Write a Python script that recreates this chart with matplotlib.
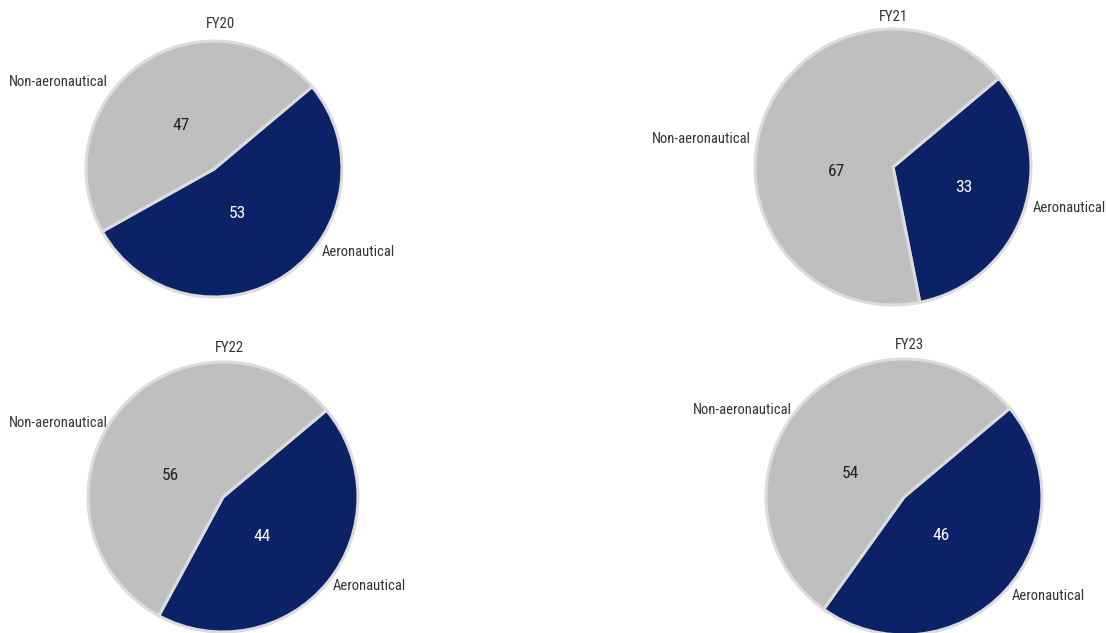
import matplotlib.pyplot as plt

years = ["FY20", "FY21", "FY22", "FY23"]
categories = ["Aeronautical", "Non-aeronautical"]
aero = [53, 33, 44, 46]
non_aero = [47, 67, 56, 54]

colors = ["#0c2266", "#bfbfbf"]
value_colors = ["white", "#222222"]
font = ["Roboto Condensed", "Liberation Sans Narrow", "DejaVu Sans"]

W, H = 1106, 633
# pie centre (px) and radius (px) for each panel
centres = [(214, 169, 128), (893, 167, 138), (223, 497, 135), (904, 497, 138)]
# label offsets in radius units: aero label, non-aero label, aero value, non-aero value, title
offsets = [
    [(0.84, -0.65), (-0.83, 0.68), (0.18, -0.35), (-0.26, 0.34), (0.05, 1.13)],
    [(1.01, -0.30), (-1.03, 0.20), (0.51, -0.15), (-0.41, -0.03), (0.0, 1.09)],
    [(0.81, -0.66), (-0.85, 0.55), (0.29, -0.29), (-0.39, 0.16), (0.05, 1.10)],
    [(0.78, -0.72), (-0.81, 0.63), (0.27, -0.28), (-0.39, 0.17), (0.04, 1.10)],
]

fig = plt.figure(figsize=(W / 100, H / 100), dpi=100)

for i, year in enumerate(years):
    cx, cy, r = centres[i]
    ax = fig.add_axes([(cx - r) / W, (H - cy - r) / H, 2 * r / W, 2 * r / H])
    vals = [aero[i], non_aero[i]]
    wedges, _ = ax.pie(vals, colors=colors, startangle=40, counterclock=False,
                       wedgeprops=dict(edgecolor="#dcdcdc", linewidth=2.2))
    for w in wedges:
        w.set_clip_on(False)
    ax.set_xlim(-1, 1)
    ax.set_ylim(-1, 1)
    ax.set_aspect("auto")
    ax.axis("off")

    o = offsets[i]
    ax.text(o[0][0], o[0][1], categories[0], ha="left", va="center",
            fontsize=10.5, color="#333333", family=font)
    ax.text(o[1][0], o[1][1], categories[1], ha="right", va="center",
            fontsize=10.5, color="#333333", family=font)
    for k in range(2):
        ax.text(o[2 + k][0], o[2 + k][1], str(vals[k]), ha="center", va="center",
                fontsize=12.5, color=value_colors[k], family=font)
    ax.text(o[4][0], o[4][1], year, ha="center", va="center",
            fontsize=10.5, color="#333333", family=font)

fig.savefig("out.png", dpi=100)
